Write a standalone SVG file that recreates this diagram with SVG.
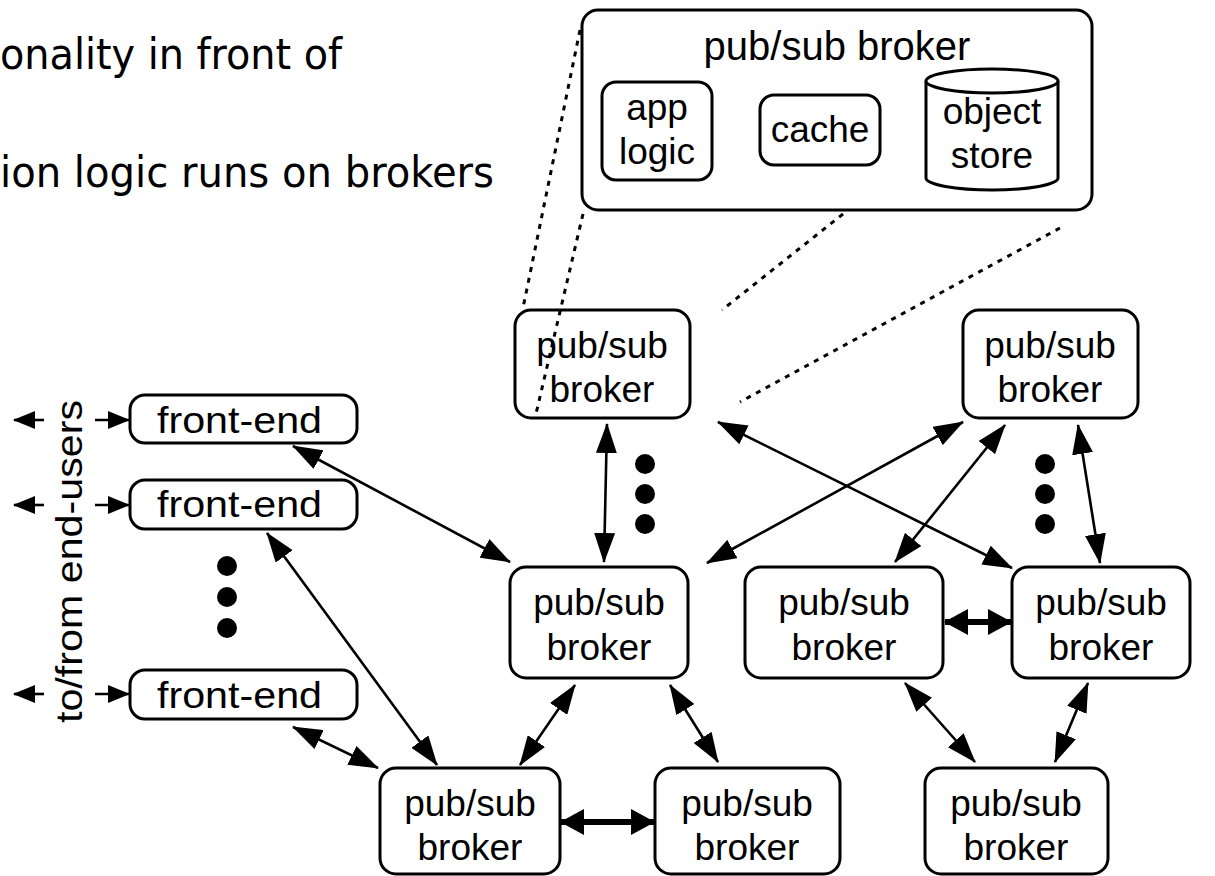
<svg xmlns="http://www.w3.org/2000/svg" width="1215" height="876" viewBox="0 0 1215 876">
<style>
.box{fill:#fff;stroke:#000;stroke-width:3}
.t{font-family:"Liberation Sans",Arial,sans-serif;font-size:37px;fill:#000;text-anchor:middle}
.fe{font-family:"Liberation Sans",Arial,sans-serif;font-size:37px;fill:#000}
.h{font-family:"DejaVu Sans",Verdana,sans-serif;font-size:43px;font-stretch:condensed;fill:#000}
.c{stroke:#000;stroke-width:2.6;fill:none;marker-start:url(#ah);marker-end:url(#ah)}
.e{stroke:#000;stroke-width:2.6;fill:none;marker-end:url(#ah3)}
.s{stroke:#000;stroke-width:6;fill:none;marker-start:url(#ah2);marker-end:url(#ah2)}
.d{stroke:#000;stroke-width:3;fill:none;stroke-dasharray:5 6}
</style>
<defs>
<marker id="ah" viewBox="0 0 30 21" refX="29" refY="10.5" markerWidth="30" markerHeight="21" orient="auto-start-reverse" markerUnits="userSpaceOnUse"><path d="M0,0 L30,10.5 L0,21 z" fill="#000"/></marker>
<marker id="ah2" viewBox="0 0 24 26" refX="23" refY="13" markerWidth="24" markerHeight="26" orient="auto-start-reverse" markerUnits="userSpaceOnUse"><path d="M0,0 L24,13 L0,26 z" fill="#000"/></marker>
<marker id="ah3" viewBox="0 0 22 18" refX="21" refY="9" markerWidth="22" markerHeight="18" orient="auto" markerUnits="userSpaceOnUse"><path d="M0,0 L22,9 L0,18 z" fill="#000"/></marker>
</defs>
<rect width="1215" height="876" fill="#fff"/>
<g id="heading">
<text class="h" x="0" y="69" textLength="342" lengthAdjust="spacingAndGlyphs">onality in front of</text>
<text class="h" x="0" y="187" textLength="494" lengthAdjust="spacingAndGlyphs">ion logic runs on brokers</text>
</g>
<g id="zoom-broker">
<rect class="box" x="582" y="10" width="510" height="200" rx="16"/>
<text class="t" x="837" y="60" style="font-size:40px">pub/sub broker</text>
<g id="app-logic"><rect class="box" x="602" y="82" width="110" height="98" rx="14"/>
<text class="t" x="657" y="120">app</text><text class="t" x="657" y="164">logic</text></g>
<g id="cache"><rect class="box" x="760" y="95" width="120" height="70" rx="14"/>
<text class="t" x="820" y="142">cache</text></g>
<g id="object-store">
<path class="box" d="M926,81 L926,178 A66,12 0 0 0 1058,178 L1058,81"/>
<ellipse class="box" cx="992" cy="81" rx="66" ry="12"/>
<text class="t" x="992" y="124">object</text><text class="t" x="992" y="168">store</text></g>
</g>
<g id="connectors">
<path class="c" d="M293,446 L510,562"/>
<path class="c" d="M267,533 L437,765"/>
<path class="c" d="M293,727 L378,768"/>
<path class="c" d="M607,424 L604,562"/>
<path class="c" d="M718,422 L1012,568"/>
<path class="c" d="M963,422 L707,563"/>
<path class="c" d="M1005,425 L895,562"/>
<path class="c" d="M1078,425 L1100,563"/>
<path class="c" d="M575,685 L520,765"/>
<path class="c" d="M670,685 L718,762"/>
<path class="c" d="M905,683 L975,762"/>
<path class="c" d="M1088,683 L1055,762"/>
<path class="s" d="M945,622 L1011,622"/>
<path class="s" d="M561,822 L654,822"/>
<path class="e" d="M44,420 L14,420"/>
<path class="e" d="M95,420 L129,420"/>
<path class="e" d="M44,505 L14,505"/>
<path class="e" d="M95,505 L129,505"/>
<path class="e" d="M44,694 L14,694"/>
<path class="e" d="M95,694 L129,694"/>
</g>
<g id="fe1"><rect class="box" x="130" y="395" width="227" height="48" rx="15"/><text class="fe" x="157" y="433" textLength="165" lengthAdjust="spacingAndGlyphs">front-end</text></g>
<g id="fe2"><rect class="box" x="130" y="480" width="227" height="49" rx="15"/><text class="fe" x="157" y="517" textLength="165" lengthAdjust="spacingAndGlyphs">front-end</text></g>
<g id="fe3"><rect class="box" x="130" y="670" width="227" height="49" rx="15"/><text class="fe" x="157" y="708" textLength="165" lengthAdjust="spacingAndGlyphs">front-end</text></g>
<text class="fe" transform="translate(82,723) rotate(-90)" textLength="323" lengthAdjust="spacingAndGlyphs">to/from end-users</text>
<g id="dots" fill="#000">
<circle cx="227" cy="566" r="10"/><circle cx="227" cy="597" r="10"/><circle cx="227" cy="628" r="10"/>
<circle cx="645" cy="464" r="10"/><circle cx="645" cy="494" r="10"/><circle cx="645" cy="524" r="10"/>
<circle cx="1045" cy="464" r="10"/><circle cx="1045" cy="494" r="10"/><circle cx="1045" cy="524" r="10"/>
</g>
<g id="b1"><rect class="box" x="515" y="310" width="175" height="108" rx="16"/><text class="t" x="602" y="358">pub/sub</text><text class="t" x="602" y="402">broker</text></g>
<g id="b2"><rect class="box" x="963" y="310" width="175" height="108" rx="16"/><text class="t" x="1050" y="358">pub/sub</text><text class="t" x="1050" y="402">broker</text></g>
<g id="b3"><rect class="box" x="510" y="567" width="178" height="111" rx="16"/><text class="t" x="599" y="615">pub/sub</text><text class="t" x="599" y="660">broker</text></g>
<g id="b4"><rect class="box" x="745" y="567" width="198" height="111" rx="16"/><text class="t" x="844" y="615">pub/sub</text><text class="t" x="844" y="660">broker</text></g>
<g id="b5"><rect class="box" x="1012" y="567" width="178" height="111" rx="16"/><text class="t" x="1101" y="615">pub/sub</text><text class="t" x="1101" y="660">broker</text></g>
<g id="b6"><rect class="box" x="380" y="768" width="180" height="106" rx="16"/><text class="t" x="470" y="816">pub/sub</text><text class="t" x="470" y="860">broker</text></g>
<g id="b7"><rect class="box" x="655" y="768" width="185" height="106" rx="16"/><text class="t" x="747" y="816">pub/sub</text><text class="t" x="747" y="860">broker</text></g>
<g id="b8"><rect class="box" x="925" y="768" width="183" height="106" rx="16"/><text class="t" x="1016" y="816">pub/sub</text><text class="t" x="1016" y="860">broker</text></g>
<g id="dotted">
<path class="d" d="M580,30 L523,308"/>
<path class="d" d="M583,214 L535,418"/>
<path class="d" d="M843,214 L722,310"/>
<path class="d" d="M1060,228 L740,402"/>
</g>
</svg>
